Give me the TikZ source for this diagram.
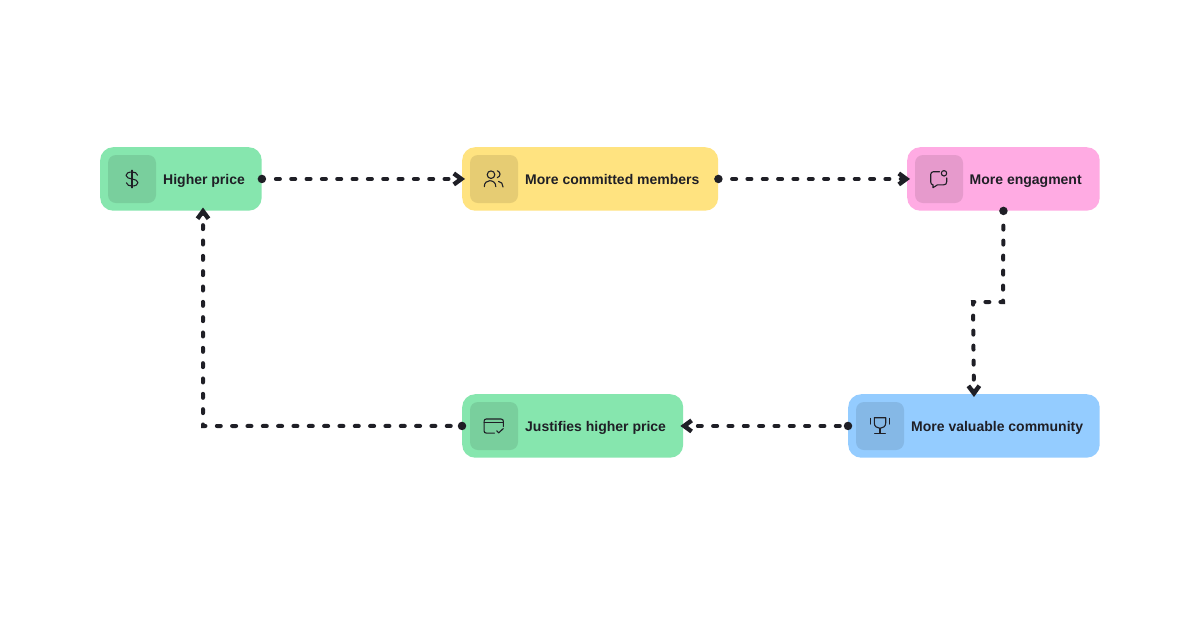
\documentclass[tikz,border=0pt]{standalone}
\usepackage{fontspec}
\setmainfont{Liberation Sans}
\usetikzlibrary{arrows.meta}
\definecolor{inkc}{HTML}{1F1F26}
\definecolor{greenc}{HTML}{86E6AE}
\definecolor{greend}{HTML}{79CF9D}
\definecolor{yellowc}{HTML}{FFE380}
\definecolor{yellowd}{HTML}{E6CC73}
\definecolor{pinkc}{HTML}{FFABE3}
\definecolor{pinkd}{HTML}{E69ACC}
\definecolor{bluec}{HTML}{94CCFF}
\definecolor{blued}{HTML}{85B8E6}
\tikzset{
 x=1pt,y=-1pt,
 card/.style={rectangle,rounded corners=13pt,inner sep=0pt,minimum height=63.5pt,anchor=north west},
 iconbox/.style={rectangle,rounded corners=8pt,inner sep=0pt,minimum size=48pt},
 label/.style={anchor=base west,inner sep=0pt,text=inkc,font=\fontsize{14}{16}\selectfont\bfseries},
 portdot/.style={circle,fill=inkc,inner sep=0pt,minimum size=8.5pt},
 link/.style={draw=inkc,line width=4pt,line cap=round,shorten >=-3pt,
   -{Straight Barb[length=7.5pt,width=11pt,line width=4.4pt]}},
 glyph/.style={draw=inkc,line width=1.1pt,line cap=round,line join=round,fill=none},
}
\begin{document}
\begin{tikzpicture}
\useasboundingbox (0,0) rectangle (1200,630);
\fill[white] (0,0) rectangle (1200,630);
% cards
\node[card,fill=greenc,minimum width=161.5pt] (price) at (100,147) {};
\node[card,fill=yellowc,minimum width=256pt] (members) at (462,147) {};
\node[card,fill=pinkc,minimum width=192.5pt] (engage) at (907,147) {};
\node[card,fill=bluec,minimum width=251.5pt] (value) at (848,394) {};
\node[card,fill=greenc,minimum width=221pt] (justify) at (462,394) {};
% icon boxes
\node[iconbox,fill=greend] (priceicon) at (132,179) {};
\node[iconbox,fill=yellowd] (membersicon) at (494,179) {};
\node[iconbox,fill=pinkd] (engageicon) at (939,179) {};
\node[iconbox,fill=blued] (valueicon) at (880,426) {};
\node[iconbox,fill=greend] (justifyicon) at (494,426) {};
% labels
\node[label] (pricetext) at (163,184) {Higher price};
\node[label] (memberstext) at (525,184) {More committed members};
\node[label] (engagetext) at (969.5,184) {More engagment};
\node[label] (valuetext) at (911,431) {More valuable community};
\node[label] (justifytext) at (525,431) {Justifies higher price};
% icons
\begin{scope}[shift={(priceicon.center)}]
 \draw[glyph] (5.6,-3.8) .. controls (5.2,-6.2) and (2.5,-7) .. (0,-7) .. controls (-3.5,-7) and (-6,-5.8) .. (-6,-3.6) .. controls (-6,-1.2) and (-2.8,-0.6) .. (0,0) .. controls (3,0.6) and (6,1.2) .. (6,3.6) .. controls (6,5.8) and (3.5,7) .. (0,7) .. controls (-2.5,7) and (-5.2,6.2) .. (-5.6,3.8);
 \draw[glyph] (0,-8.8) -- (0,8.8);
\end{scope}
\begin{scope}[shift={(membersicon.center)}]
 \draw[glyph] (-3,-4.3) circle (3.8);
 \draw[glyph] (-9.7,7.7) .. controls (-9.7,3.6) and (-7,1.7) .. (-4.3,1.7) .. controls (-1,1.7) and (1.8,3.6) .. (1.8,7.7);
 \draw[glyph] (3.3,-8.3) .. controls (5.2,-7.4) and (6,-6.2) .. (6,-4.8) .. controls (6,-3.4) and (5.2,-2.2) .. (3.3,-1.3);
 \draw[glyph] (4.5,2.4) .. controls (7.4,2.8) and (9,4.8) .. (9,8);
\end{scope}
\begin{scope}[shift={(engageicon.center)}]
 \draw[glyph] (0.5,-7.3) -- (-5.5,-7.3) .. controls (-7.2,-7.3) and (-8.3,-6.2) .. (-8.3,-4.5) -- (-8.3,3) .. controls (-8.3,4.7) and (-7.4,5.7) .. (-6,5.8) -- (-6,8.7) -- (-1.5,5.8) -- (4.7,5.8) .. controls (6.6,5.8) and (7.7,4.7) .. (7.7,2.8) -- (7.7,-1);
 \draw[glyph] (5,-5.7) circle (2.7);
\end{scope}
\begin{scope}[shift={(valueicon.center)}]
 \draw[glyph] (-5.7,-8.3) -- (5.7,-8.3) -- (5.7,-3) .. controls (5.7,0.3) and (3,2.3) .. (0,2.3) .. controls (-3,2.3) and (-5.7,0.3) .. (-5.7,-3) -- cycle;
 \draw[glyph] (0,2.3) -- (0,7.3);
 \draw[glyph] (-5.3,7.3) -- (5.3,7.3);
 \draw[glyph] (-9.3,-7.7) -- (-9.3,-2);
 \draw[glyph] (9.3,-7.7) -- (9.3,-2);
\end{scope}
\begin{scope}[shift={(justifyicon.center)}]
 \draw[glyph] (0.5,7.1) -- (-7.6,7.1) .. controls (-9.1,7.1) and (-9.9,6.3) .. (-9.9,4.9) -- (-9.9,-4.8) .. controls (-9.9,-6.2) and (-9.1,-7) .. (-7.6,-7) -- (7,-7) .. controls (8.5,-7) and (9.3,-6.2) .. (9.3,-4.8) -- (9.3,0.5);
 \draw[glyph] (-9.9,-3.7) -- (9.3,-3.7);
 \draw[glyph] (2.7,4.7) -- (4.7,6.9) -- (9.2,2.6);
\end{scope}
% ports
\node[portdot] (p1) at (price.east) {};
\node[portdot] (p2) at (members.east) {};
\node[portdot] (p3) at (engage.south) {};
\node[portdot] (p4) at (value.west) {};
\node[portdot] (p5) at (justify.west) {};
\coordinate (pricein) at (203,210.5);
\coordinate (bend1) at (1003,302);
\coordinate (bend2) at (973,302);
\coordinate (bend3) at (203,426);
% connectors
\draw[link,dash pattern=on 4pt off 11.33pt,dash phase=5.78pt] (p1) -- (members.west);
\draw[link,dash pattern=on 4pt off 11.33pt,dash phase=6.08pt] (p2) -- (engage.west);
\draw[link,dash pattern=on 4pt off 11pt,dash phase=4.75pt] (p3) -- (bend1) -- (bend2) -- (value.north);
\draw[link,dash pattern=on 4pt off 11.33pt,dash phase=11.55pt] (p4) -- (justify.east);
\draw[link,dash pattern=on 4pt off 11.33pt,dash phase=8.53pt] (p5) -- (bend3) -- (pricein);
\end{tikzpicture}
\end{document}
